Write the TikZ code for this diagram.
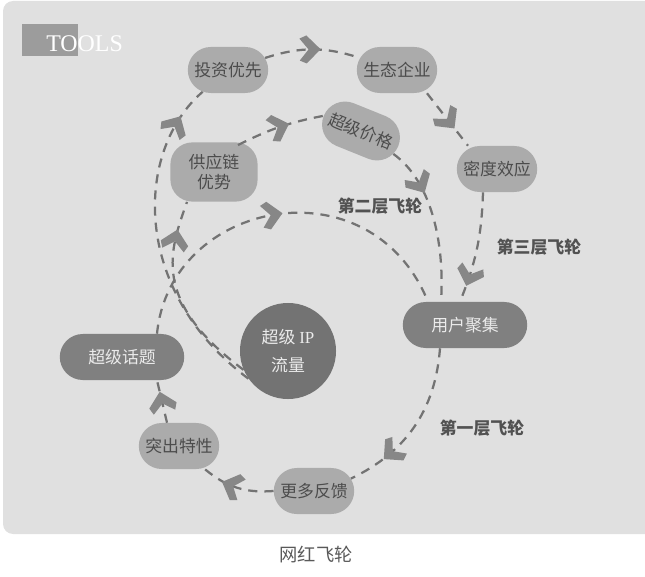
\documentclass[tikz,border=0pt]{standalone}
\usepackage{fontspec}
\newfontfamily\cjk{Noto Sans CJK SC}
\newfontfamily\latinserif{Liberation Serif}
\usetikzlibrary{shapes.misc, decorations.markings, calc}

\begin{document}
\begin{tikzpicture}[x=0.025cm, y=0.025cm,
	pill/.style = {rounded rectangle,
		minimum width=2.15cm,
		minimum height=1.15cm,
		inner sep=2pt,
		font=\cjk\fontsize{12}{14}\selectfont},
	lite/.style = {pill, fill=black!33, text=black!70},
	dark/.style = {pill, fill=black!50, text=white!92!black, minimum width=3.25cm},
	flow/.style = {line width=1.6pt, black!55, dash pattern=on 6.5pt off 5pt},
	chev/.style = {postaction={decorate},
		decoration={markings, mark=at position #1 with {\fill[black!47] (10,0) -- (-4,14) -- (-11,11) -- (-2,0) -- (-11,-11) -- (-4,-14) -- cycle;}}},
	tag/.style = {font=\cjk\bfseries\fontsize{12}{14}\selectfont, text=black!68}]
	
	\useasboundingbox (0,0) rectangle (645,-577);
	
	% Panel
	\fill[black!12, rounded corners=0.25cm] (3,-1) rectangle (660,-534);
	
	% Tools badge
	\fill[black!39] (22,-24) rectangle (78,-56);
	\node[font=\latinserif\fontsize{17}{17}\selectfont, text=white, anchor=base west, inner sep=0pt] (tools) at (46,-52) {TOOLS};
	
	% Nodes
	\node[lite] (invest) at (228,-70) {投资优先};
	\node[lite] (eco) at (397,-70) {生态企业};
	\node[lite, rotate=-22] (price) at (361,-131) {超级价格};
	\node[lite] (dens) at (497,-169) {密度效应};
	\node[lite, rectangle, rounded corners=0.55cm, minimum width=2.18cm, minimum height=1.48cm, align=center] (supply) at (214,-172) {供应链\\优势};
	\node[circle, minimum size=2.4cm, inner sep=0pt, fill=black!55, text=white!92!black, align=center,
		font=\cjk\fontsize{12}{20}\selectfont] (ip) at (288,-351) {超级 {\latinserif IP}\\流量};
	\node[dark] (user) at (465,-325) {用户聚集};
	\node[dark] (topic) at (122,-357) {超级话题};
	\node[lite] (feature) at (179,-446) {突出特性};
	\node[lite] (more) at (314,-491) {更多反馈};
	
	% Layer labels
	\node[tag] (lay2) at (380,-206) {第二层飞轮};
	\node[tag] (lay3) at (539,-247) {第三层飞轮};
	\node[tag] (lay1) at (482,-428) {第一层飞轮};
	
	% Third layer
	\draw[flow, chev=0.87] (ip.215) .. controls (130,-290) and (135,-150) .. (invest);
	\draw[flow, chev=0.48] (invest) to[bend left=18] (eco);
	\draw[flow, chev=0.52] ($(eco.south)+(30,0)$) -- ($(dens.north)+(-29,0)$);
	\draw[flow, chev=0.76] ($(dens.south)+(-14,0)$) to[bend left=10] ($(user.north)+(-5,0)$);
	
	% Second layer
	\draw[flow, chev=0.8] (ip.203) .. controls (150,-300) and (170,-250) .. ($(supply.south)+(-27,0)$);
	\draw[flow, chev=0.5] ($(supply.north)+(24,-3)$) to[bend left=8] (price.west);
	\draw[flow, chev=0.25] (price) .. controls (430,-180) and (445,-240) .. ($(user.north)+(-24,0)$);
	
	% First layer
	\draw[flow, chev=0.48] ($(topic.north)+(35,0)$) .. controls (170,-200) and (370,-160) .. ($(user.north)+(-37,0)$);
	\draw[flow, chev=0.71] ($(user.south)+(-25,0)$) to[bend left=30] (more);
	\draw[flow, chev=0.58] (more.west) to[bend left=22] ($(feature.south)+(26,0)$);
	\draw[flow, chev=0.5] ($(feature.north)+(-12,0)$) -- ($(topic.south)+(35,0)$);
	
	% Caption
	\node[font=\cjk\fontsize{13}{15}\selectfont, text=black!65] (caption) at (316,-555) {网红飞轮};
	
\end{tikzpicture}
\end{document}
